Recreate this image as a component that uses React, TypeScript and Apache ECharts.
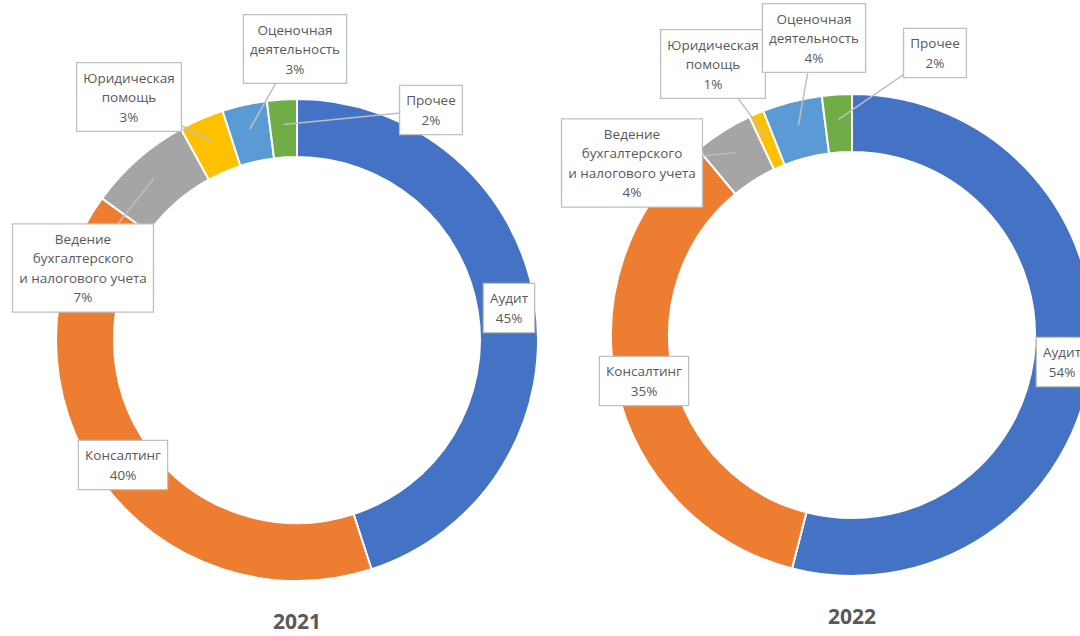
import React, { useEffect, useRef } from 'react';
import * as echarts from 'echarts';

const categories = [
  'Аудит',
  'Консалтинг',
  'Ведение бухгалтерского и налогового учета',
  'Юридическая помощь',
  'Оценочная деятельность',
  'Прочее',
];
const labelTexts = [
  'Аудит',
  'Консалтинг',
  'Ведение\nбухгалтерского\nи налогового учета',
  'Юридическая\nпомощь',
  'Оценочная\nдеятельность',
  'Прочее',
];
const values2021 = [45, 40, 7, 3, 3, 2];
const values2022 = [54, 35, 4, 1, 4, 2];
const years = ['2021', '2022'];

const colors = ['#4472C4', '#ED7D31', '#A5A5A5', '#FFC000', '#5B9BD5', '#70AD47'];
const FONT = '"Open Sans", "Noto Sans", sans-serif';

// label box centers (layout)
const labelPos2021 = [[509, 308], [123, 465], [83, 268], [129, 97], [295, 49], [431, 110]];
const labelPos2022 = [[1062, 362], [644, 381], [632, 163], [713, 64], [814, 38], [935, 53]];

const centers = [[297, 340], [852, 335]];
const radii = [183, 241];
const titleY = [621, 616];

function tipPoint(values: number[], idx: number, center: number[]) {
  const total = values.reduce((a, b) => a + b, 0);
  let cum = 0;
  for (let i = 0; i < idx; i++) cum += values[i];
  const frac = (cum + values[idx] / 2) / total;
  const ang = frac * Math.PI * 2; // clockwise from top
  const r = (radii[0] + radii[1]) / 2 + 4;
  return [center[0] + r * Math.sin(ang), center[1] - r * Math.cos(ang)];
}

function baseSeries(values: number[], center: number[]) {
  return {
    type: 'pie',
    z: 2,
    center,
    radius: radii,
    startAngle: 90,
    clockwise: true,
    itemStyle: { borderColor: '#ffffff', borderWidth: 2 },
    emphasis: { disabled: true },
    label: { show: false },
    labelLine: { show: false },
    data: categories.map((name, i) => ({
      name,
      value: values[i],
      itemStyle: { color: colors[i] },
    })),
  };
}

function labelSeries(values: number[], center: number[], pos: number[][]) {
  return {
    type: 'pie',
    z: 5,
    silent: true,
    center,
    radius: radii,
    startAngle: 90,
    clockwise: true,
    avoidLabelOverlap: false,
    itemStyle: { color: 'rgba(0,0,0,0)', borderWidth: 0 },
    emphasis: { disabled: true },
    data: categories.map((name, i) => ({
      name,
      value: values[i],
      labelLine: { show: i >= 2 },
    })),
    label: {
      show: true,
      position: 'outside',
      formatter: (p: any) => `${labelTexts[p.dataIndex]}\n${p.value}%`,
      color: '#595959',
      fontFamily: FONT,
      fontSize: 13.5,
      lineHeight: 19.5,
      backgroundColor: '#ffffff',
      borderColor: '#bfbfbf',
      borderWidth: 1.3,
      padding: [5, 6, 4, 6],
      align: 'center',
    },
    labelLine: {
      show: true,
      length: 10,
      length2: 10,
      lineStyle: { color: '#bfbfbf', width: 1.5 },
    },
    labelLayout: (params: any) => {
      const i = params.dataIndex;
      const res: any = {
        x: pos[i][0],
        y: pos[i][1],
        align: 'center',
        verticalAlign: 'middle',
      };
      if (i >= 2) {
        const tip = tipPoint(values, i, center);
        res.labelLinePoints = [
          [pos[i][0], pos[i][1]],
          [(pos[i][0] + tip[0]) / 2, (pos[i][1] + tip[1]) / 2],
          tip,
        ];
      }
      return res;
    },
  };
}

export default function App() {
  const ref = useRef<HTMLDivElement>(null);
  useEffect(() => {
    document.body.style.margin = '0';
    const chart = echarts.init(ref.current!, null, { renderer: 'svg' });
    chart.setOption({
      animation: false,
      backgroundColor: '#ffffff',
      series: [
        baseSeries(values2021, centers[0]),
        baseSeries(values2022, centers[1]),
        labelSeries(values2021, centers[0], labelPos2021),
        labelSeries(values2022, centers[1], labelPos2022),
      ],
      graphic: years.map((y, i) => ({
        type: 'text',
        x: centers[i][0],
        y: titleY[i],
        style: {
          text: y,
          align: 'center',
          verticalAlign: 'middle',
          fill: '#595959',
          font: `bold 21px ${FONT}`,
        },
      })),
    });
    return () => chart.dispose();
  }, []);
  return <div ref={ref} style={{ width: 1080, height: 636 }} />;
}
